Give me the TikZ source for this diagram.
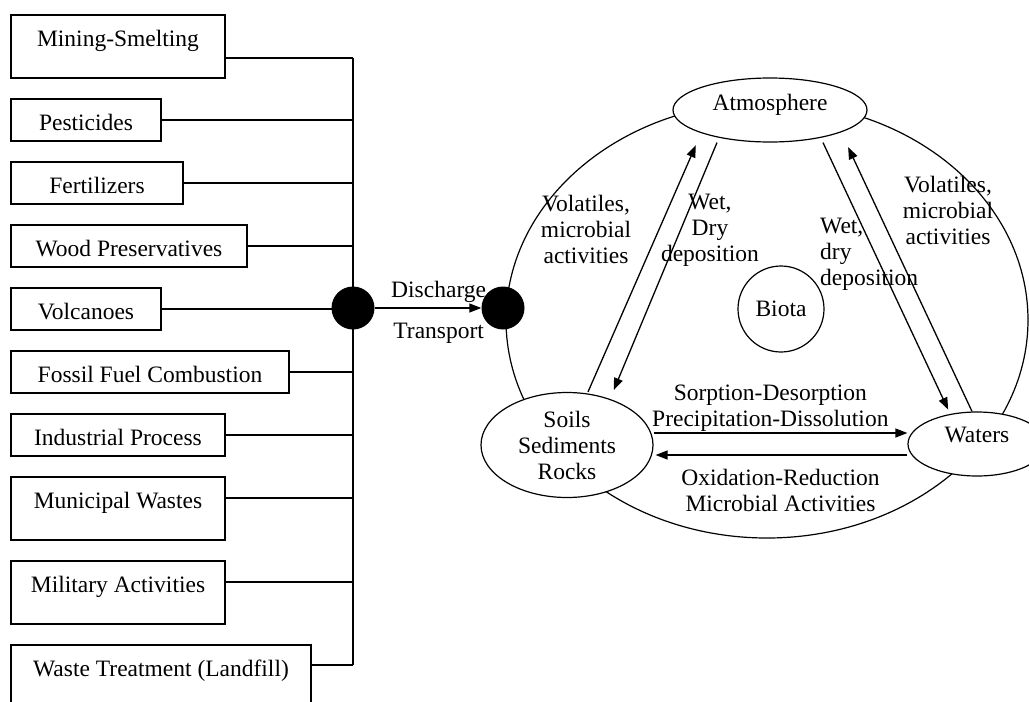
\documentclass[tikz,border=0pt]{standalone}
\usepackage{fontspec}
\setmainfont{Liberation Serif}
\usetikzlibrary{shapes.geometric, arrows.meta, positioning}
\tikzset{
  % --- Nguon phat thai ---------------------------------------
  src/.style={draw, line width=1.3pt, anchor=north west, outer sep=0pt,
    inner xsep=0pt, inner ysep=0pt, text height=31pt, text depth=11pt},
  srctall/.style={src, text depth=32pt},
  link/.style={line width=1.3pt},
  hubdot/.style={circle, fill=black, minimum size=43pt, inner sep=0pt},
  % --- Chu trinh ---------------------------------------------
  sphere/.style={draw, ellipse, fill=white, line width=1.2pt,
    inner sep=0pt, align=center},
  flow/.style={-{Triangle[length=12pt, width=9pt]}, line width=1.3pt},
  lbl/.style={inner sep=0pt, align=center}
}

\begin{document}
\begin{tikzpicture}[x=1pt, y=-1pt, font=\fontsize{23.5}{26}\selectfont]
  \useasboundingbox (0,0) rectangle (1029,702);
  \clip (0,0) rectangle (1029,702);

  % ---------- Nguon ----------
  \node[srctall, minimum width=214pt] (mine) at (11,15) {Mining-Smelting};
  \node[src, minimum width=150pt, below=21pt of mine.south west,
        anchor=north west] (pest) {Pesticides};
  \node[src, minimum width=172pt, below=21pt of pest.south west,
        anchor=north west] (fert) {Fertilizers};
  \node[src, minimum width=236pt, below=21pt of fert.south west,
        anchor=north west] (wood) {Wood Preservatives};
  \node[src, minimum width=150pt, below=21pt of wood.south west,
        anchor=north west] (volc) {Volcanoes};
  \node[src, minimum width=278pt, below=21pt of volc.south west,
        anchor=north west] (foss) {Fossil Fuel Combustion};
  \node[src, minimum width=214pt, below=21pt of foss.south west,
        anchor=north west] (indu) {Industrial Process};
  \node[srctall, minimum width=214pt, below=21pt of indu.south west,
        anchor=north west] (muni) {Municipal Wastes};
  \node[srctall, minimum width=214pt, below=21pt of muni.south west,
        anchor=north west] (mili) {Military Activities};
  \node[srctall, minimum width=300pt, below=21pt of mili.south west,
        anchor=north west] (wast) {Waste Treatment (Landfill)};

  % ---------- Gom ve mot diem ----------
  \node[hubdot] (hub) at (353,308) {};
  \foreach \srcname/\dy in {mine/-11.5, pest/0, fert/0, wood/0, volc/0,
                            foss/0, indu/0, muni/10.5, mili/10.5, wast/11.5} {
    \coordinate (\srcname-out) at ([yshift=\dy]\srcname.east);
    \draw[link] (\srcname-out) -- (\srcname-out -| hub);
  }
  \draw[link] (mine-out -| hub) -- (wast-out -| hub);

  % ---------- Chu trinh ----------
  \node[draw, ellipse, line width=1.2pt, minimum width=522pt,
        minimum height=436pt] (cycle) at (767,320) {};
  \node[hubdot] (sink) at (503,308) {};
  \node[sphere, minimum width=194pt, minimum height=64pt, text depth=16pt]
    (atmos) at (770,110) {Atmosphere};
  \node[sphere, minimum width=172pt, minimum height=105pt] (soils)
    at (567,445) {Soils\\Sediments\\Rocks};
  \node[sphere, minimum width=138pt, minimum height=64pt, text depth=18pt]
    (waters) at (977,444) {Waters};
  \node[sphere, circle, minimum size=86pt] (biota) at (781,309) {Biota};

  % ---------- Ket noi ----------
  \draw[flow] (hub) -- node[lbl, pos=0.6, above=5pt] {Discharge}
    node[lbl, pos=0.6, below=14pt] {Transport} (sink);

  \draw[flow, shorten >=3pt] ([xshift=21pt]soils.north)
    -- ([xshift=-73pt]atmos.south);
  \draw[flow, shorten >=2pt] ([xshift=-53pt]atmos.south)
    -- ([xshift=46pt]soils.north);
  \draw[flow, shorten >=2pt] ([xshift=53pt]atmos.south)
    -- ([xshift=-28pt]waters.north);
  \draw[flow, shorten >=5pt] ([xshift=-5pt]waters.north)
    -- ([xshift=76pt]atmos.south);

  \draw[flow] ([yshift=12pt]soils.east)
    -- node[lbl, pos=0.46, above=1pt]
       {Sorption-Desorption\\Precipitation-Dissolution}
    ([yshift=12pt]soils.east -| waters.west);
  \draw[flow, shorten >=2pt] ([yshift=-11pt]waters.west)
    -- node[lbl, below=14pt] {Oxidation-Reduction\\Microbial Activities}
    ([yshift=-11pt]waters.west -| soils.east);

  % ---------- Nhan ----------
  \node[lbl] (volleft) at (586,229) {Volatiles,\\microbial\\activities};
  \node[lbl] (wetleft) at (710,230) {Wet,\\Dry\\deposition};
  \node[lbl, anchor=west, align=left] (wetright) at (820,254)
    {Wet,\\dry\\deposition};
  \node[lbl] (volright) at (948,210) {Volatiles,\\microbial\\activities};

\end{tikzpicture}
\end{document}
